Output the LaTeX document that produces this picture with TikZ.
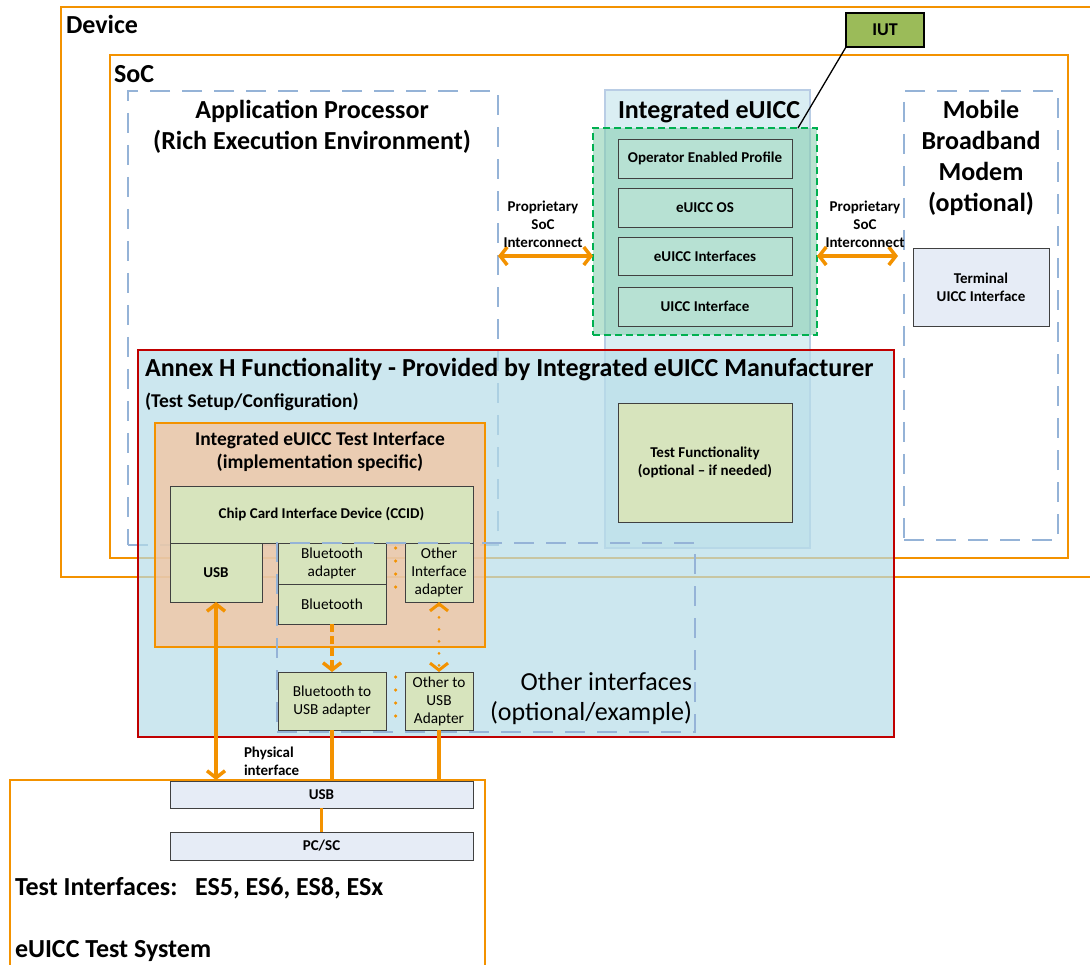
\documentclass[tikz,border=0pt]{standalone}
\usepackage{fontspec}
\setmainfont{Carlito}
\usetikzlibrary{arrows.meta,calc}
\definecolor{orng}{RGB}{243,146,0}
\definecolor{dashblue}{RGB}{149,179,215}
\definecolor{annexred}{RGB}{192,0,0}
\definecolor{annexfill}{RGB}{183,221,232}
\definecolor{euiccfill}{RGB}{218,238,243}
\definecolor{euiccedge}{RGB}{185,205,229}
\definecolor{tealfill}{RGB}{130,204,172}
\definecolor{tealbox}{RGB}{183,225,211}
\definecolor{greendash}{RGB}{0,176,80}
\definecolor{peach}{RGB}{244,196,158}
\definecolor{boxgreen}{RGB}{215,228,189}
\definecolor{boxgrey}{RGB}{230,236,246}
\definecolor{iutgreen}{RGB}{155,187,89}
\newcommand\fsz[2]{\fontsize{#1}{#2}\selectfont}
\begin{document}
\begin{tikzpicture}[x=1pt,y=-1pt,
  every node/.style={inner sep=0pt,outer sep=0pt},
  frame/.style={anchor=north west},
  orangeframe/.style={frame,draw=orng,line width=2.5pt},
  dashframe/.style={frame,draw=dashblue,line width=2.5pt,dash pattern=on 20pt off 12pt},
  title/.style={font=\bfseries\fsz{26}{31}},
  midtitle/.style={font=\bfseries\fsz{19.5}{23}},
  small/.style={font=\bfseries\fsz{15}{18}},
  boxbase/.style={anchor=north west,draw=black!75,line width=0.8pt,align=center},
  gbox/.style={boxbase,fill=boxgreen,font=\bfseries\fsz{15}{18}},
  gboxr/.style={boxbase,fill=boxgreen,font=\fsz{15.3}{18}},
  tbox/.style={boxbase,fill=tealbox,font=\bfseries\fsz{15}{18}},
  greybox/.style={boxbase,fill=boxgrey,font=\bfseries\fsz{15}{18}},
  biarrow/.style={draw=orng,line width=3.5pt,{Straight Barb[length=7pt,width=18pt]}-{Straight Barb[length=7pt,width=18pt]}},
  solidline/.style={draw=orng,line width=3.5pt},
  dasharrow/.style={draw=orng,line width=3.5pt,dash pattern=on 8pt off 4pt,-{Straight Barb[length=7pt,width=18pt]}},
  dotarrow/.style={draw=orng,line width=3pt,line cap=round,dash pattern=on 0pt off 12pt,{Straight Barb[length=7pt,width=18pt]}-{Straight Barb[length=7pt,width=18pt]}},
  dotsep/.style={draw=orng,line width=3.5pt,line cap=round,dash pattern=on 0pt off 13pt}]
\useasboundingbox (0,0) rectangle (1090,965);

% Device and SoC outlines
\node[orangeframe,minimum width=1039pt,minimum height=570pt] (device) at (61,7) {};
\node[orangeframe,minimum width=958pt,minimum height=503pt] (soc) at (110,55) {};
\node[title,anchor=base west] at (66,34) {Device};
\node[title,anchor=base west] at (114,83) {SoC};

% Application processor
\node[dashframe,minimum width=370pt,minimum height=454pt] (ap) at (128,91) {};
\node[title,align=center] at (312,127) {Application Processor\\(Rich Execution Environment)};

% Mobile broadband modem
\node[dashframe,minimum width=154pt,minimum height=449pt] (mbm) at (904,91) {};
\node[title,align=center] at (981,158) {Mobile\\Broadband\\Modem\\(optional)};
\node[greybox,minimum width=136pt,minimum height=78pt] (term) at (913,248) {Terminal\\UICC Interface};

% Integrated eUICC
\node[frame,draw=euiccedge,fill=euiccfill,line width=2.5pt,minimum width=205pt,minimum height=458pt] (euicc) at (605,90) {};
\node[title,anchor=base west] at (618,119) {Integrated eUICC};

% Annex H area
\node[frame,draw=annexred,fill=annexfill,fill opacity=0.7,line width=2.5pt,minimum width=756pt,minimum height=387pt] (annex) at (138,350) {};
\node[title,anchor=base west] at (145,377) {Annex H Functionality - Provided by Integrated eUICC Manufacturer};
\node[midtitle,anchor=base west] at (145,408) {(Test Setup/Configuration)};

% eUICC internals
\node[frame,draw=greendash,fill=tealfill,fill opacity=0.55,line width=2.5pt,dash pattern=on 7pt off 4pt,minimum width=224pt,minimum height=207pt] (tee) at (593,128) {};
\node[tbox,minimum width=174pt,minimum height=39pt] (oep) at (618,139) {Operator Enabled Profile};
\node[tbox,minimum width=174pt,minimum height=39pt] (os) at (618,188) {eUICC OS};
\node[tbox,minimum width=174pt,minimum height=38pt] (eif) at (618,237) {eUICC Interfaces};
\node[tbox,minimum width=174pt,minimum height=39pt] (uif) at (618,287) {UICC Interface};

% Implementation under test
\node[anchor=north west,draw=black,line width=1.5pt,fill=iutgreen,minimum width=78pt,minimum height=34pt,font=\bfseries\fsz{18}{20}] (iut) at (846,13) {IUT};
\coordinate (iutpt) at (798,128);
\draw[line width=1.3pt] (iut.south west) -- (iutpt);

% Interconnects
\draw[biarrow] (ap.east |- eif.center) -- (tee.west |- eif.center);
\draw[biarrow,shorten >=6pt] (tee.east |- eif.center) -- (mbm.west |- eif.center);
\node[small,align=center] at (543,224) {Proprietary\\SoC\\Interconnect};
\node[small,align=center] at (865,224) {Proprietary\\SoC\\Interconnect};

% Test functionality
\node[gbox,minimum width=174pt,minimum height=119pt] (tfn) at (618,403) {Test Functionality\\(optional -- if needed)};

% Test interface block
\node[frame,draw=orng,fill=peach,fill opacity=0.75,line width=2.5pt,minimum width=330pt,minimum height=224pt] (tif) at (155,423) {};
\node[midtitle,align=center] at (320,452) {Integrated eUICC Test Interface\\(implementation specific)};
\node[gbox,minimum width=303pt,minimum height=57pt] (ccid) at (170,486) {Chip Card Interface Device (CCID)};
\node[gbox,minimum width=92pt,minimum height=59pt] (usb) at (170,543) {USB};
\node[gboxr,minimum width=108pt,minimum height=41pt] (bta) at (278,543) {Bluetooth\\adapter};
\node[gboxr,minimum width=108pt,minimum height=40pt] (bt) at (278,584) {Bluetooth};
\node[gboxr,minimum width=68pt,minimum height=59pt] (oia) at (405,543) {Other\\Interface\\adapter};

% Adapters
\node[gboxr,minimum width=108pt,minimum height=58pt] (b2u) at (278,672) {Bluetooth to\\USB adapter};
\node[gboxr,minimum width=68pt,minimum height=58pt] (o2u) at (405,672) {Other to\\USB\\Adapter};

% Other interfaces outline
\node[dashframe,minimum width=418pt,minimum height=189pt] (oif) at (277,543) {};
\node[font=\fsz{26}{30},align=right,anchor=east] at (692,699) {Other interfaces\\(optional/example)};

\draw[dotsep] ($(bta.north east)!.5!(oia.north west)+(0,5)$) -- ++(0,42);
\draw[dotsep] ($(b2u.north east)!.5!(o2u.north west)+(0,5)$) -- ++(0,40);
\draw[dasharrow] (bt.south) -- (b2u.north);
\draw[dotarrow] (oia.south) -- (o2u.north);

% eUICC test system
\node[orangeframe,minimum width=475pt,minimum height=220pt] (tsys) at (10,780) {};
\node[greybox,minimum width=303pt,minimum height=27pt] (hostusb) at (170,781) {USB};
\node[greybox,minimum width=303pt,minimum height=28pt] (pcsc) at (170,832) {PC/SC};
\node[font=\bfseries\fsz{26}{30},anchor=base west] at (15,895) {Test Interfaces:\ \ \ ES5, ES6, ES8, ESx};
\node[font=\bfseries\fsz{26}{30},anchor=base west] at (15,957) {eUICC Test System};

\draw[biarrow] (usb.south) -- (usb.south |- tsys.north);
\node[small,align=left,anchor=west] at (244,761) {Physical\\interface};
\draw[solidline] (b2u.south) -- (b2u.south |- hostusb.north);
\draw[solidline] (o2u.south) -- (o2u.south |- hostusb.north);
\draw[solidline] (hostusb.south) -- (pcsc.north);
\end{tikzpicture}
\end{document}
